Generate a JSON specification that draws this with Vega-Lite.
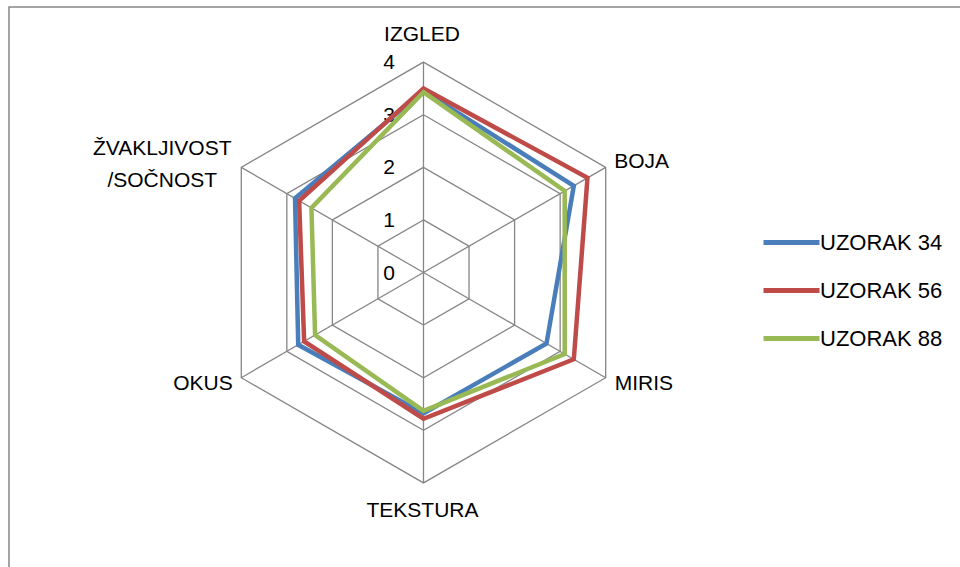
{
  "$schema": "https://vega.github.io/schema/vega-lite/v6.json",
  "width": 960,
  "height": 570,
  "autosize": {"type": "none"},
  "padding": {"left": 9, "top": 7, "right": 0, "bottom": 0},
  "background": "white",
  "config": {
    "view": {"stroke": "#868686", "strokeWidth": 1.5},
    "text": {"font": "Liberation Sans", "fontSize": 21, "color": "#000000"},
    "legend": {
      "orient": "none",
      "legendX": 752,
      "legendY": 205,
      "symbolType": "stroke",
      "symbolSize": 3136,
      "symbolStrokeWidth": 5,
      "labelFont": "Liberation Sans",
      "labelFontSize": 22,
      "labelColor": "#000000",
      "labelOffset": -2,
      "padding": 0,
      "rowPadding": 6,
      "title": null
    }
  },
  "datasets": {
    "osi": [
      {"idx": 0, "svojstvo": "IZGLED"},
      {"idx": 1, "svojstvo": "BOJA"},
      {"idx": 2, "svojstvo": "MIRIS"},
      {"idx": 3, "svojstvo": "TEKSTURA"},
      {"idx": 4, "svojstvo": "OKUS"},
      {"idx": 5, "svojstvo": "ŽVAKLJIVOST\n/SOČNOST"}
    ],
    "mreza": [
      {"idx": 0, "razine": [1, 2, 3, 4]},
      {"idx": 1, "razine": [1, 2, 3, 4]},
      {"idx": 2, "razine": [1, 2, 3, 4]},
      {"idx": 3, "razine": [1, 2, 3, 4]},
      {"idx": 4, "razine": [1, 2, 3, 4]},
      {"idx": 5, "razine": [1, 2, 3, 4]}
    ],
    "oznake": [
      {"razina": 0}, {"razina": 1}, {"razina": 2}, {"razina": 3}, {"razina": 4}
    ],
    "uzorci": [
      {"uzorak": "UZORAK 34", "idx": 0, "svojstvo": "IZGLED", "vrijednost": 3.45},
      {"uzorak": "UZORAK 34", "idx": 1, "svojstvo": "BOJA", "vrijednost": 3.3},
      {"uzorak": "UZORAK 34", "idx": 2, "svojstvo": "MIRIS", "vrijednost": 2.7},
      {"uzorak": "UZORAK 34", "idx": 3, "svojstvo": "TEKSTURA", "vrijednost": 2.68},
      {"uzorak": "UZORAK 34", "idx": 4, "svojstvo": "OKUS", "vrijednost": 2.75},
      {"uzorak": "UZORAK 34", "idx": 5, "svojstvo": "ŽVAKLJIVOST/SOČNOST", "vrijednost": 2.82},
      {"uzorak": "UZORAK 56", "idx": 0, "svojstvo": "IZGLED", "vrijednost": 3.5},
      {"uzorak": "UZORAK 56", "idx": 1, "svojstvo": "BOJA", "vrijednost": 3.6},
      {"uzorak": "UZORAK 56", "idx": 2, "svojstvo": "MIRIS", "vrijednost": 3.3},
      {"uzorak": "UZORAK 56", "idx": 3, "svojstvo": "TEKSTURA", "vrijednost": 2.78},
      {"uzorak": "UZORAK 56", "idx": 4, "svojstvo": "OKUS", "vrijednost": 2.62},
      {"uzorak": "UZORAK 56", "idx": 5, "svojstvo": "ŽVAKLJIVOST/SOČNOST", "vrijednost": 2.73},
      {"uzorak": "UZORAK 88", "idx": 0, "svojstvo": "IZGLED", "vrijednost": 3.43},
      {"uzorak": "UZORAK 88", "idx": 1, "svojstvo": "BOJA", "vrijednost": 3.1},
      {"uzorak": "UZORAK 88", "idx": 2, "svojstvo": "MIRIS", "vrijednost": 3.1},
      {"uzorak": "UZORAK 88", "idx": 3, "svojstvo": "TEKSTURA", "vrijednost": 2.63},
      {"uzorak": "UZORAK 88", "idx": 4, "svojstvo": "OKUS", "vrijednost": 2.38},
      {"uzorak": "UZORAK 88", "idx": 5, "svojstvo": "ŽVAKLJIVOST/SOČNOST", "vrijednost": 2.46}
    ]
  },
  "layer": [
    {
      "data": {"name": "mreza"},
      "transform": [
        {"flatten": ["razine"], "as": ["razina"]},
        {"calculate": "datum.idx * PI / 3", "as": "kut"},
        {"calculate": "datum.razina * sin(datum.kut)", "as": "px"},
        {"calculate": "datum.razina * cos(datum.kut)", "as": "py"}
      ],
      "mark": {"type": "line", "interpolate": "linear-closed", "color": "#868686", "strokeWidth": 1.3},
      "encoding": {
        "x": {"field": "px", "type": "quantitative", "axis": null, "scale": {"domain": [-7.88, 10.371], "nice": false, "zero": false}},
        "y": {"field": "py", "type": "quantitative", "axis": null, "scale": {"domain": [-5.789, 5.048], "nice": false, "zero": false}},
        "detail": {"field": "razina"},
        "order": {"field": "idx", "type": "quantitative"}
      }
    },
    {
      "data": {"name": "osi"},
      "transform": [
        {"calculate": "datum.idx * PI / 3", "as": "kut"},
        {"calculate": "4 * sin(datum.kut)", "as": "px"},
        {"calculate": "4 * cos(datum.kut)", "as": "py"}
      ],
      "mark": {"type": "rule", "color": "#868686", "strokeWidth": 1.3},
      "encoding": {
        "x": {"field": "px", "type": "quantitative", "axis": null, "scale": {"domain": [-7.88, 10.371], "nice": false, "zero": false}},
        "y": {"field": "py", "type": "quantitative", "axis": null, "scale": {"domain": [-5.789, 5.048], "nice": false, "zero": false}},
        "x2": {"datum": 0},
        "y2": {"datum": 0}
      }
    },
    {
      "data": {"name": "oznake"},
      "mark": {"type": "text", "align": "center", "baseline": "middle", "dx": -34.5, "dy": 1},
      "encoding": {
        "x": {"datum": 0, "type": "quantitative", "axis": null, "scale": {"domain": [-7.88, 10.371], "nice": false, "zero": false}},
        "y": {"field": "razina", "type": "quantitative", "axis": null, "scale": {"domain": [-5.789, 5.048], "nice": false, "zero": false}},
        "text": {"field": "razina", "type": "quantitative"}
      }
    },
    {
      "data": {"name": "uzorci"},
      "transform": [
        {"calculate": "datum.idx * PI / 3", "as": "kut"},
        {"calculate": "datum.vrijednost * sin(datum.kut)", "as": "px"},
        {"calculate": "datum.vrijednost * cos(datum.kut)", "as": "py"}
      ],
      "mark": {"type": "line", "interpolate": "linear-closed", "strokeWidth": 4.5},
      "encoding": {
        "x": {"field": "px", "type": "quantitative", "axis": null, "scale": {"domain": [-7.88, 10.371], "nice": false, "zero": false}},
        "y": {"field": "py", "type": "quantitative", "axis": null, "scale": {"domain": [-5.789, 5.048], "nice": false, "zero": false}},
        "color": {
          "field": "uzorak",
          "type": "nominal",
          "scale": {"domain": ["UZORAK 34", "UZORAK 56", "UZORAK 88"], "range": ["#4A7EBB", "#BE4B48", "#98B954"]},
          "legend": {"title": null}
        },
        "order": {"field": "idx", "type": "quantitative"}
      }
    },
    {
      "data": {"name": "osi"},
      "transform": [
        {"filter": "datum.idx == 0"},
        {"calculate": "datum.idx * PI / 3", "as": "kut"},
        {"calculate": "4 * sin(datum.kut)", "as": "px"},
        {"calculate": "4 * cos(datum.kut)", "as": "py"}
      ],
      "mark": {"type": "text", "align": "center", "baseline": "middle", "dy": -27, "dx": -1.5},
      "encoding": {
        "x": {"field": "px", "type": "quantitative", "axis": null, "scale": {"domain": [-7.88, 10.371], "nice": false, "zero": false}},
        "y": {"field": "py", "type": "quantitative", "axis": null, "scale": {"domain": [-5.789, 5.048], "nice": false, "zero": false}},
        "text": {"field": "svojstvo"}
      }
    },
    {
      "data": {"name": "osi"},
      "transform": [
        {"filter": "datum.idx == 3"},
        {"calculate": "datum.idx * PI / 3", "as": "kut"},
        {"calculate": "4 * sin(datum.kut)", "as": "px"},
        {"calculate": "4 * cos(datum.kut)", "as": "py"}
      ],
      "mark": {"type": "text", "align": "center", "baseline": "middle", "dy": 28.4, "dx": -1},
      "encoding": {
        "x": {"field": "px", "type": "quantitative", "axis": null, "scale": {"domain": [-7.88, 10.371], "nice": false, "zero": false}},
        "y": {"field": "py", "type": "quantitative", "axis": null, "scale": {"domain": [-5.789, 5.048], "nice": false, "zero": false}},
        "text": {"field": "svojstvo"}
      }
    },
    {
      "data": {"name": "osi"},
      "transform": [
        {"filter": "datum.idx == 1"},
        {"calculate": "datum.idx * PI / 3", "as": "kut"},
        {"calculate": "4 * sin(datum.kut)", "as": "px"},
        {"calculate": "4 * cos(datum.kut)", "as": "py"}
      ],
      "mark": {"type": "text", "align": "left", "baseline": "middle", "dx": 8.5, "dy": -5},
      "encoding": {
        "x": {"field": "px", "type": "quantitative", "axis": null, "scale": {"domain": [-7.88, 10.371], "nice": false, "zero": false}},
        "y": {"field": "py", "type": "quantitative", "axis": null, "scale": {"domain": [-5.789, 5.048], "nice": false, "zero": false}},
        "text": {"field": "svojstvo"}
      }
    },
    {
      "data": {"name": "osi"},
      "transform": [
        {"filter": "datum.idx == 2"},
        {"calculate": "datum.idx * PI / 3", "as": "kut"},
        {"calculate": "4 * sin(datum.kut)", "as": "px"},
        {"calculate": "4 * cos(datum.kut)", "as": "py"}
      ],
      "mark": {"type": "text", "align": "left", "baseline": "middle", "dx": 9, "dy": 6.6},
      "encoding": {
        "x": {"field": "px", "type": "quantitative", "axis": null, "scale": {"domain": [-7.88, 10.371], "nice": false, "zero": false}},
        "y": {"field": "py", "type": "quantitative", "axis": null, "scale": {"domain": [-5.789, 5.048], "nice": false, "zero": false}},
        "text": {"field": "svojstvo"}
      }
    },
    {
      "data": {"name": "osi"},
      "transform": [
        {"filter": "datum.idx == 4"},
        {"calculate": "datum.idx * PI / 3", "as": "kut"},
        {"calculate": "4 * sin(datum.kut)", "as": "px"},
        {"calculate": "4 * cos(datum.kut)", "as": "py"}
      ],
      "mark": {"type": "text", "align": "right", "baseline": "middle", "dx": -8.6, "dy": 6.6},
      "encoding": {
        "x": {"field": "px", "type": "quantitative", "axis": null, "scale": {"domain": [-7.88, 10.371], "nice": false, "zero": false}},
        "y": {"field": "py", "type": "quantitative", "axis": null, "scale": {"domain": [-5.789, 5.048], "nice": false, "zero": false}},
        "text": {"field": "svojstvo"}
      }
    },
    {
      "data": {"name": "osi"},
      "transform": [
        {"filter": "datum.idx == 5"},
        {"calculate": "datum.idx * PI / 3", "as": "kut"},
        {"calculate": "4 * sin(datum.kut)", "as": "px"},
        {"calculate": "4 * cos(datum.kut)", "as": "py"}
      ],
      "mark": {"type": "text", "align": "center", "baseline": "middle", "dx": -79, "dy": -18, "lineBreak": "\n", "lineHeight": 32},
      "encoding": {
        "x": {"field": "px", "type": "quantitative", "axis": null, "scale": {"domain": [-7.88, 10.371], "nice": false, "zero": false}},
        "y": {"field": "py", "type": "quantitative", "axis": null, "scale": {"domain": [-5.789, 5.048], "nice": false, "zero": false}},
        "text": {"field": "svojstvo"}
      }
    }
  ]
}
